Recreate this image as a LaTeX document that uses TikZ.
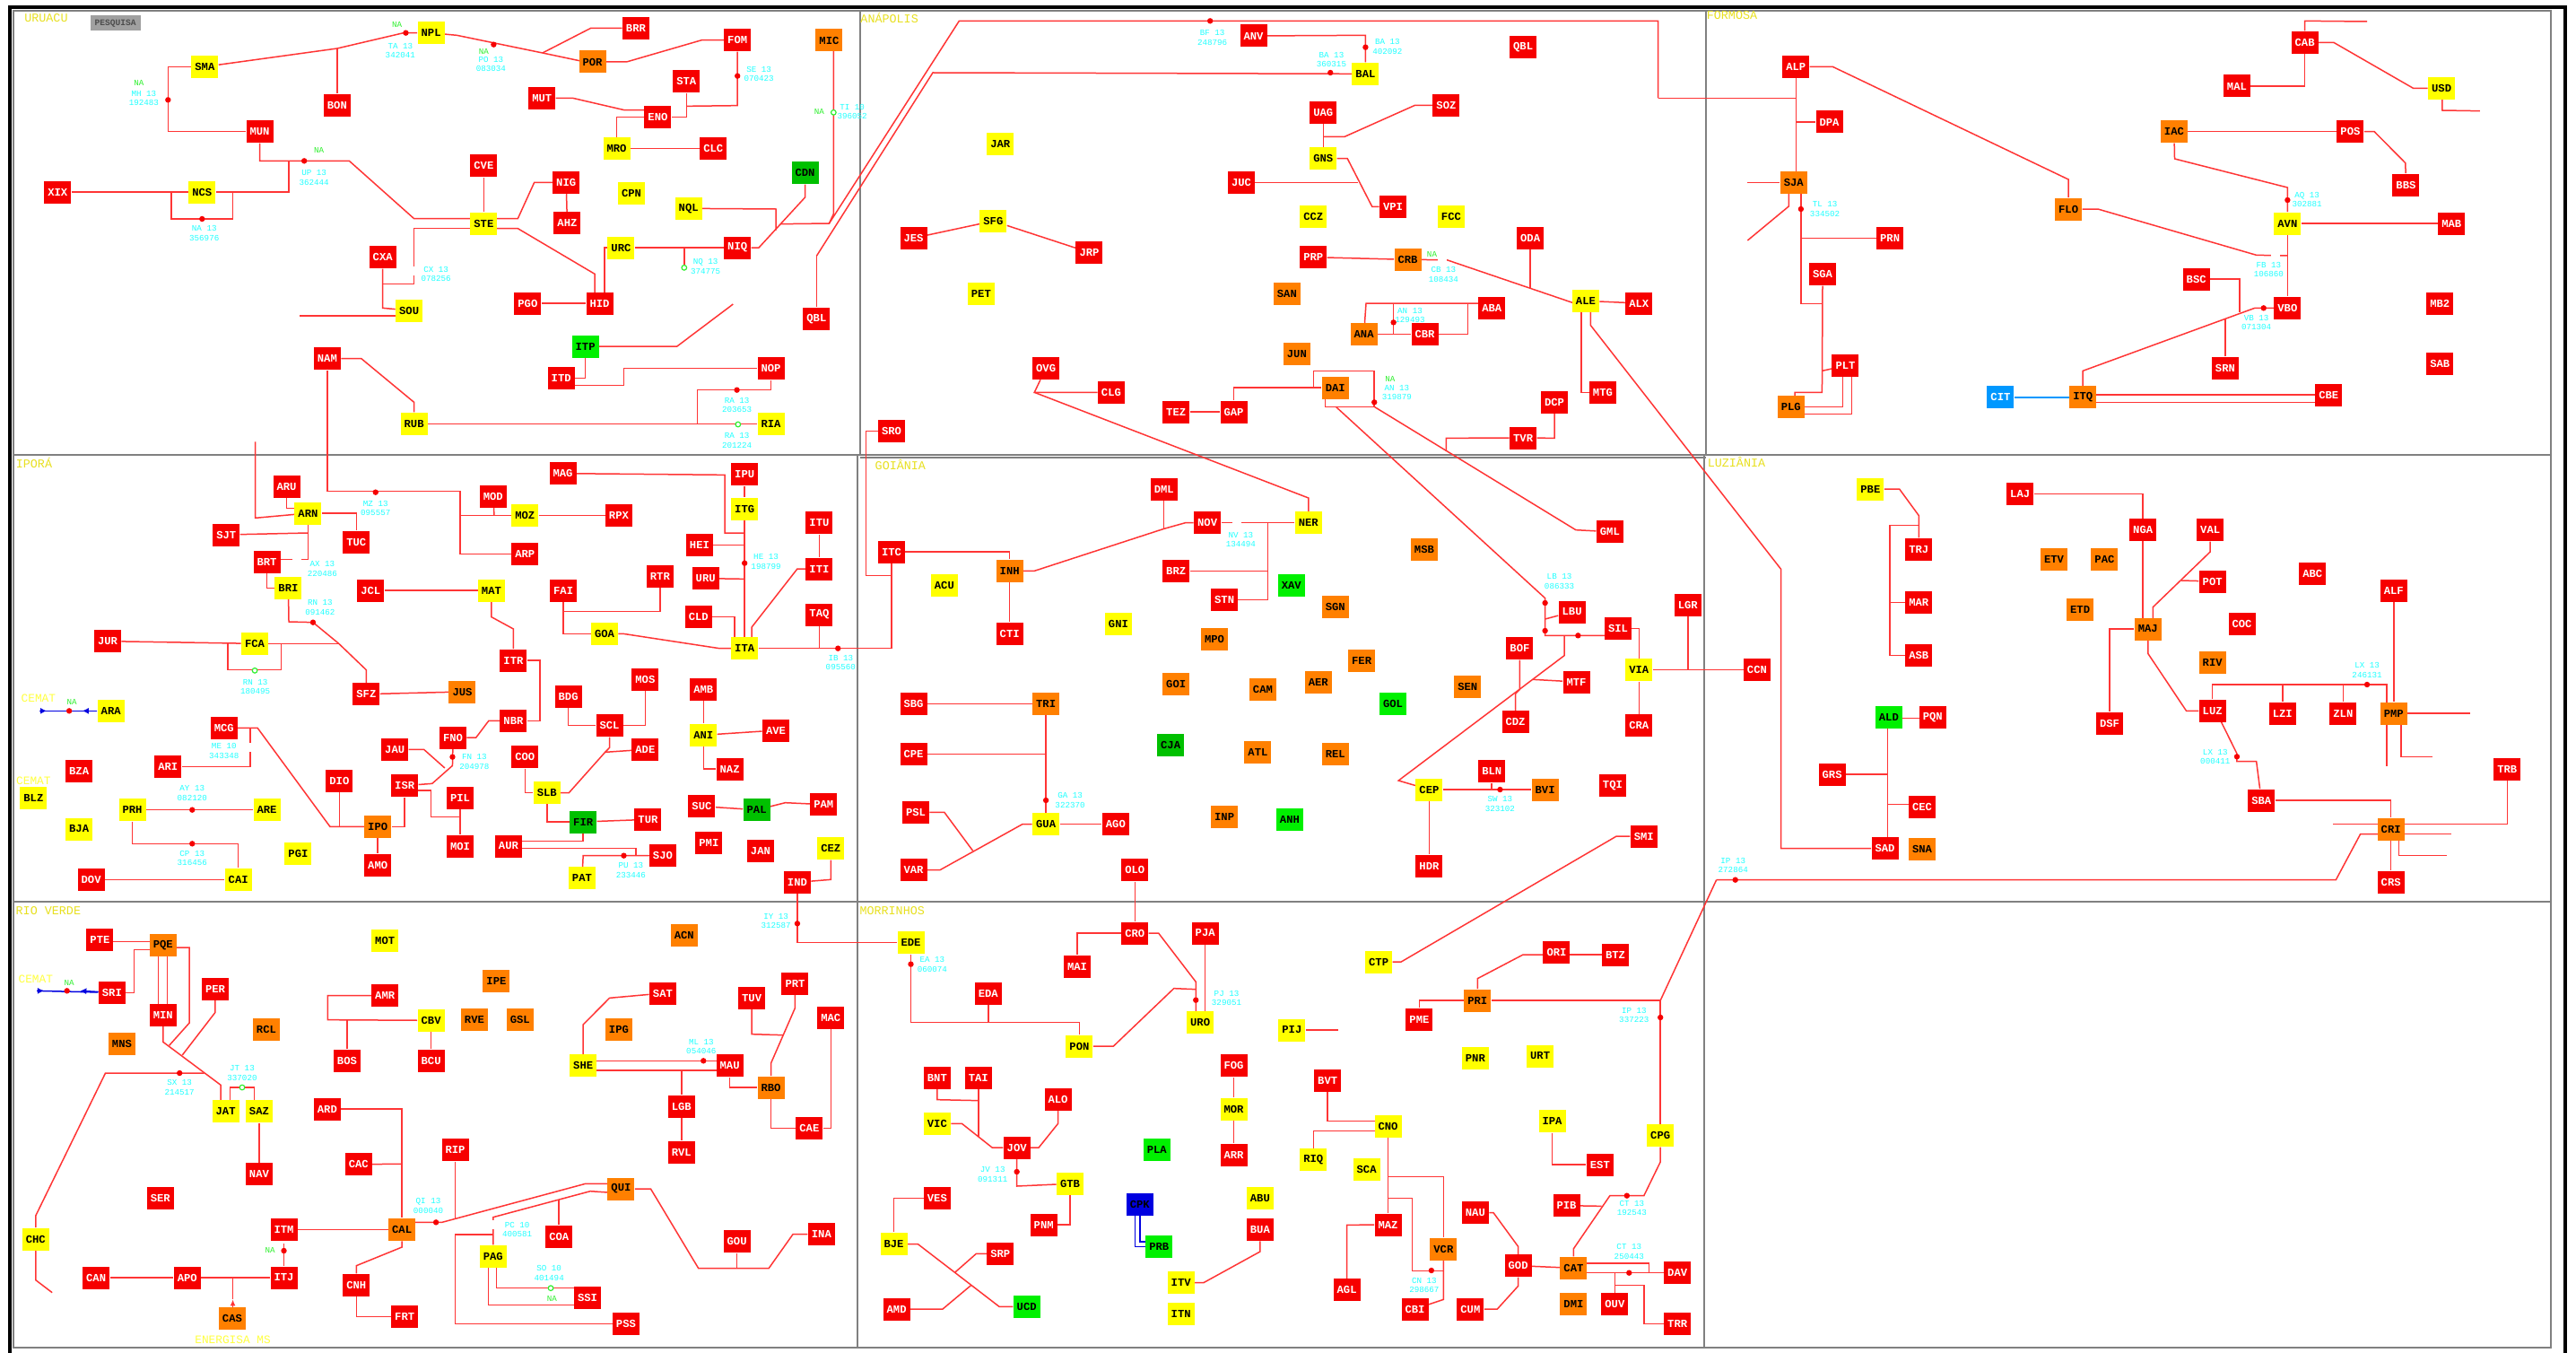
\documentclass[tikz,border=0pt]{standalone}
\usepackage{fontspec}
\setmainfont{Liberation Mono}
\usetikzlibrary{arrows.meta}
\pgfdeclarelayer{wires}
\pgfsetlayers{wires,main}
\definecolor{lnr}{HTML}{FF3535}
\definecolor{ndr}{HTML}{F60000}
\definecolor{ndy}{HTML}{FFFF00}
\definecolor{ndo}{HTML}{FF8000}
\definecolor{ndg}{HTML}{00F000}
\definecolor{ndd}{HTML}{00C000}
\definecolor{ndb}{HTML}{0000E0}
\definecolor{ndc}{HTML}{0098FF}
\definecolor{lbc}{HTML}{20FFFF}
\definecolor{grn}{HTML}{30F030}
\definecolor{ttl}{HTML}{E8E020}
\definecolor{frm}{HTML}{808080}
\tikzset{
 tA/.style={x=.3061pt,y=-.16667pt},
 tB/.style={x=.3061pt,y=-.16667pt,xshift=475pt},
 tC/.style={x=.31pt,y=-.16667pt,xshift=950pt},
 tD/.style={x=.3061pt,y=-.16667pt,yshift=-250pt},
 tE/.style={x=.3061pt,y=-.16667pt,xshift=475pt,yshift=-250pt},
 tF/.style={x=.31pt,y=-.16667pt,xshift=950pt,yshift=-250pt},
 tG/.style={x=.3061pt,y=-.16667pt,yshift=-500pt},
 tH/.style={x=.3061pt,y=-.16667pt,xshift=475pt,yshift=-500pt},
 base/.style={rectangle,draw=none,inner sep=0pt,minimum width=15pt,minimum height=12.5pt,font=\fontsize{6.1}{7}\selectfont\bfseries},
 rn/.style={base,fill=ndr,text=white},
 yn/.style={base,fill=ndy,text=black},
 on/.style={base,fill=ndo,text=black},
 gn/.style={base,fill=ndg,text=black},
 dn/.style={base,fill=ndd,text=black},
 bn/.style={base,fill=ndb,text=black},
 cn/.style={base,fill=ndc,text=white},
 labl/.style={text=lbc,inner sep=0pt,align=center,font=\fontsize{4.6}{5.3}\selectfont},
 nal/.style={text=grn,inner sep=0pt,font=\fontsize{4.6}{5.3}\selectfont},
 ttln/.style={text=ttl,inner sep=0pt,font=\fontsize{6.7}{7.5}\selectfont},
 cem/.style={text=ndy!75!white,inner sep=0pt,font=\fontsize{6.4}{7.5}\selectfont},
 swc/.style={circle,fill=ndr,inner sep=0pt,minimum size=3.2pt},
 swo/.style={circle,fill=white,draw=grn,line width=.6pt,inner sep=0pt,minimum size=2.8pt},
 conn/.style={draw=lnr,line width=.75pt,line join=miter},
 bwire/.style={draw=ndb,line width=.75pt},
 frameln/.style={draw=frm,line width=1pt},
 blackln/.style={draw=black,line width=2.2pt},
}
\newcounter{lbn}
\newcommand\NdR[2]{\node[rn](#1) at (#2){#1};}
\newcommand\NdY[2]{\node[yn](#1) at (#2){#1};}
\newcommand\NdO[2]{\node[on](#1) at (#2){#1};}
\newcommand\NdG[2]{\node[gn](#1) at (#2){#1};}
\newcommand\NdD[2]{\node[dn](#1) at (#2){#1};}
\newcommand\Lb[3]{\stepcounter{lbn}\node[labl](lb\thelbn) at (#1){#2\\#3};}
\newcommand\Nal[1]{\stepcounter{lbn}\node[nal](lb\thelbn) at (#1){NA};}
\newcommand\Sc[1]{\stepcounter{lbn}\node[swc](lb\thelbn) at (#1){};}
\newcommand\So[1]{\stepcounter{lbn}\node[swo](lb\thelbn) at (#1){};}
\newcommand\Sh[1]{\stepcounter{lbn}\node[rectangle,fill=white,inner sep=0pt,minimum width=5pt,minimum height=5pt](lb\thelbn) at (#1){};}
\newcommand\Ln{\draw[conn]}
\begin{document}
\begin{tikzpicture}
\useasboundingbox (0pt,0pt) rectangle (1436pt,-754pt);
% ---------------- tile A
\begin{scope}[tA]
\NdY{NPL}{785,110}\NdY{SMA}{373,223}\NdR{BRR}{1158,94}\NdO{POR}{1079,207}\NdR{FOM}{1343,134}\NdO{MIC}{1510,135}
\NdR{BON}{614,352}\NdR{STA}{1250,272}\NdR{MUT}{987,328}\NdR{ENO}{1198,392}\NdY{MRO}{1123,497}\NdR{CLC}{1299,497}
\NdR{MUN}{473,440}\NdR{CVE}{881,554}\NdR{NIG}{1031,610}\NdY{CPN}{1150,646}\NdD{CDN}{1466,578}\NdR{XIX}{105,642}
\NdY{NCS}{368,642}\NdY{STE}{881,747}\NdR{AHZ}{1033,746}\NdY{NQL}{1254,697}\NdY{URC}{1131,828}\NdR{NIQ}{1343,828}
\NdR{CXA}{697,860}\NdY{SOU}{745,1038}\NdR{PGO}{961,1014}\NdR{HID}{1092,1014}\NdR{QBL}{1487,1066}\NdG{ITP}{1066,1158}
\NdR{NAM}{596,1199}\NdR{NOP}{1404,1232}\NdR{ITD}{1022,1264}\NdY{RUB}{754,1417}\NdY{RIA}{1404,1417}
\node[base,fill=frm!75!white,text=black!70,minimum width=28pt,minimum height=8.5pt,font=\fontsize{4.8}{5.3}\selectfont\bfseries](pesq) at (210,78){PESQUISA};
\node[ttln](ttlA) at (84,60){URUACU};
\Nal{723,82}\Lb{729,169}{TA 13}{342041}\Nal{881,171}\Lb{894,215}{PO 13}{083034}\Lb{1382,247}{SE 13}{070423}
\Nal{253,277}\Lb{262,328}{MH 13}{192483}\Nal{581,503}\Lb{572,594}{UP 13}{362444}\Lb{372,780}{NA 13}{356976}
\Lb{794,916}{CX 13}{078256}\Lb{1285,890}{NQ 13}{374775}\Lb{1342,1354}{RA 13}{203653}\Lb{1342,1473}{RA 13}{201224}
\Nal{1492,373}\Lb{1552,374}{TI 10}{396052}
\Sc{739,110}\Sc{899,149}\Sc{1343,254}\Sc{306,334}\Sc{554,538}\Sc{368,732}\Sc{1342,1304}
\So{1518,376}\So{1246,895}\So{1344,1419}\Sh{754,907}
\coordinate (qa) at (1487,856);
\coordinate (qb) at (1510,747);
\end{scope}
% ---------------- tile B
\begin{scope}[tB]
\NdR{ANV}{731,120}\node[rn](QBLb) at (1222,158){QBL};\NdY{BAL}{935,247}\NdR{UAG}{858,376}\NdR{SOZ}{1082,352}\NdY{JAR}{270,481}
\NdY{GNS}{858,530}\NdR{JUC}{709,610}\NdR{VPI}{985,691}\NdY{CCZ}{840,723}\NdY{FCC}{1091,723}\NdY{SFG}{257,739}
\NdR{JES}{112,796}\NdR{JRP}{432,844}\NdR{ODA}{1235,796}\NdR{PRP}{840,860}\NdO{CRB}{1012,868}\NdY{PET}{235,981}
\NdO{SAN}{792,981}\NdY{ALE}{1336,1006}\NdR{ALX}{1433,1014}\NdR{ABA}{1165,1030}\NdO{ANA}{932,1118}\NdR{CBR}{1043,1118}
\NdO{JUN}{810,1183}\NdR{OVG}{353,1231}\NdO{DAI}{880,1296}\NdR{CLG}{472,1312}\NdR{MTG}{1367,1312}\NdR{DCP}{1279,1344}
\NdR{TEZ}{590,1377}\NdR{GAP}{695,1377}\NdR{SRO}{72,1441}\NdR{TVR}{1222,1464}
\node[ttln](ttlB) at (68,60){ANÁPOLIS};
\Lb{656,126}{BF 13}{248796}\Lb{975,156}{BA 13}{402092}\Lb{873,199}{BA 13}{360315}\Nal{1056,849}\Lb{1077,917}{CB 13}{108434}
\Lb{1016,1054}{AN 13}{129493}\Nal{980,1268}\Lb{992,1312}{AN 13}{319879}
\Sc{652,70}\Sc{935,158}\Sc{871,243}\Sc{986,1078}\Sc{951,1345}\Sh{1074,869}
\coordinate (alea) at (1345,1088);
\end{scope}
% ---------------- tile C
\begin{scope}[tC]
\NdR{CAB}{1080,142}\NdR{ALP}{165,223}\NdR{MAL}{958,288}\NdY{USD}{1326,295}\NdR{DPA}{225,408}\NdO{IAC}{845,440}
\NdR{POS}{1162,440}\NdO{SJA}{161,610}\NdR{BBS}{1262,618}\NdO{FLO}{655,699}\NdY{AVN}{1049,747}\NdR{MAB}{1344,747}
\NdR{PRN}{334,796}\NdR{SGA}{213,917}\NdR{BSC}{885,933}\NdR{VBO}{1049,1030}\NdR{MB2}{1323,1014}\NdR{SAB}{1323,1215}
\NdR{SRN}{937,1231}\NdR{PLT}{254,1223}\NdR{CBE}{1123,1320}\node[cn](CIT) at (533,1328){CIT};\NdO{ITQ}{681,1328}\NdO{PLG}{156,1360}
\node[ttln](ttlC) at (50,52){FORMOSA};
\Lb{217,699}{TL 13}{334502}\Lb{1084,667}{AQ 13}{302881}\Lb{1015,901}{FB 13}{106860}\Lb{993,1078}{VB 13}{071304}
\Sc{174,699}\Sc{1049,669}\Sc{1006,1030}\Sh{1028,855}
\end{scope}
% ---------------- tile D
\begin{scope}[tD]
\NdR{MAG}{1025,83}\NdR{IPU}{1356,87}\NdR{ARU}{522,127}\NdR{MOD}{898,160}\NdY{ITG}{1356,202}\NdY{ARN}{561,216}\NdY{MOZ}{956,224}
\NdR{RPX}{1127,224}\NdR{ITU}{1492,248}\NdR{SJT}{412,288}\NdR{TUC}{649,313}\NdR{HEI}{1274,322}\NdR{ARP}{956,353}\NdR{BRT}{486,378}
\NdR{ITI}{1492,402}\NdR{RTR}{1202,426}\NdR{URU}{1285,434}\NdY{BRI}{525,466}\NdR{JCL}{675,474}\NdY{MAT}{895,474}\NdR{FAI}{1026,474}
\NdR{CLD}{1272,563}\NdR{TAQ}{1492,555}\NdY{GOA}{1101,619}\NdR{JUR}{196,644}\NdY{FCA}{464,652}\NdY{ITA}{1356,668}\NdR{ITR}{935,708}
\NdR{MOS}{1175,772}\NdR{AMB}{1281,805}\NdR{SFZ}{667,821}\NdO{JUS}{842,813}\NdR{BDG}{1035,829}\NdY{ARA}{202,877}\NdR{NBR}{935,910}
\NdR{MCG}{408,934}\NdR{SCL}{1110,926}\NdY{ANI}{1281,958}\NdR{AVE}{1413,942}\NdR{FNO}{825,966}\NdR{JAU}{719,1006}\NdR{COO}{956,1031}
\NdR{ADE}{1175,1006}\NdR{ARI}{306,1063}\NdR{NAZ}{1329,1071}\NdR{BZA}{144,1079}\NdR{DIO}{618,1111}\NdR{ISR}{737,1127}\NdY{SLB}{996,1151}
\NdY{BLZ}{61,1167}\NdR{PIL}{838,1167}\NdR{SUC}{1278,1196}\NdR{PAM}{1500,1190}\NdD{PAL}{1378,1208}\NdY{PRH}{241,1208}\NdY{ARE}{486,1208}
\NdR{TUR}{1180,1240}\NdD{FIR}{1062,1248}\NdO{IPO}{688,1264}\NdY{BJA}{144,1272}\NdR{MOI}{838,1329}\NdR{AUR}{926,1329}\NdR{PMI}{1291,1317}
\NdR{JAN}{1385,1345}\NdY{CEZ}{1513,1337}\NdY{PGI}{543,1353}\NdR{SJO}{1207,1361}\NdR{AMO}{688,1393}\NdY{PAT}{1060,1436}\NdY{CAI}{434,1441}
\NdR{DOV}{166,1441}\NdR{IND}{1452,1450}
\node[ttln](ttlD) at (62,47){IPORÁ};
\node[cem](cemA) at (70,836){CEMAT};\node[cem](cemB) at (61,1110){CEMAT};
\Lb{684,199}{MZ 13}{095557}\Lb{587,401}{AX 13}{220486}\Lb{583,530}{RN 13}{091462}\Lb{465,796}{RN 13}{180495}\Nal{131,848}
\Lb{408,1010}{ME 10}{343348}\Lb{864,1047}{FN 13}{204978}\Lb{350,1151}{AY 13}{082120}\Lb{350,1369}{CP 13}{316456}\Lb{1149,1409}{PU 13}{233446}
\Lb{1395,377}{HE 13}{198799}\Lb{1531,715}{IB 13}{095560}
\Sc{684,146}\Sc{570,581}\So{464,742}\Sc{126,877}\Sc{824,1031}\Sc{350,1208}\Sc{350,1321}\Sc{1136,1361}\Sc{1356,383}\Sc{1526,668}
\Sh{541,370}\Sh{456,1000}
\end{scope}
% ---------------- tile E
\begin{scope}[tE]
\NdR{DML}{568,135}\NdR{NOV}{647,248}\NdY{NER}{831,248}\NdR{GML}{1380,278}\NdO{MSB}{1042,337}\NdR{ITC}{72,345}\NdO{INH}{287,409}
\NdR{BRZ}{590,409}\NdY{ACU}{168,458}\NdG{XAV}{800,458}\NdR{STN}{678,506}\NdO{SGN}{880,530}\NdR{LGR}{1522,522}\NdR{LBU}{1311,546}
\NdY{GNI}{485,587}\NdR{SIL}{1395,601}\NdR{CTI}{287,619}\NdO{MPO}{660,636}\NdR{BOF}{1216,668}\NdO{FER}{928,708}\NdY{VIA}{1433,740}
\NdO{AER}{849,780}\NdR{MTF}{1319,780}\NdO{GOI}{590,788}\NdO{CAM}{748,805}\NdO{SEN}{1121,796}\NdR{SBG}{112,853}\NdO{TRI}{353,853}
\NdG{GOL}{985,853}\NdR{CDZ}{1208,914}\NdR{CRA}{1433,926}\NdD{CJA}{580,990}\NdO{ATL}{739,1015}\NdR{CPE}{112,1022}\NdO{REL}{880,1022}
\NdR{BLN}{1165,1079}\NdY{CEP}{1051,1140}\NdO{BVI}{1262,1140}\NdR{TQI}{1385,1127}\NdR{PSL}{116,1216}\NdY{GUA}{353,1256}\NdR{AGO}{480,1256}
\NdO{INP}{678,1232}\NdG{ANH}{797,1240}\NdR{SMI}{1442,1296}\NdR{HDR}{1051,1396}\NdR{VAR}{112,1409}\NdR{OLO}{515,1409}
\node[ttln](ttlE) at (88,53){GOIÂNIA};
\Lb{708,304}{NV 13}{134494}\Lb{1288,443}{LB 13}{086333}\Lb{397,1176}{GA 13}{322370}\Lb{1180,1188}{SW 13}{323102}
\Sc{1262,516}\Sc{1262,609}\Sc{1322,625}\Sc{353,1176}\Sc{1180,1140}\Sh{700,248}
\coordinate (smib) at (1392,1296);
\end{scope}
% ---------------- tile F
\begin{scope}[tF]
\NdY{PBE}{299,135}\NdR{LAJ}{568,151}\NdR{NGA}{789,272}\NdR{VAL}{910,272}\NdR{TRJ}{386,337}\NdO{ETV}{629,369}\NdO{PAC}{720,369}
\NdR{ABC}{1094,418}\NdR{POT}{914,444}\NdR{ALF}{1240,474}\NdR{MAR}{386,514}\NdO{ETD}{676,539}\NdR{COC}{967,587}\NdO{MAJ}{798,603}
\NdR{ASB}{386,692}\NdO{RIV}{914,716}\NdR{CCN}{95,740}\NdR{LUZ}{914,877}\NdR{LZI}{1040,885}\NdR{ZLN}{1149,885}\NdO{PMP}{1240,885}
\NdG{ALD}{332,898}\NdR{PQN}{411,898}\NdR{DSF}{729,918}\NdR{GRS}{230,1089}\NdR{TRB}{1444,1071}\NdR{CEC}{392,1198}\NdR{SBA}{1002,1176}
\NdO{CRI}{1235,1272}\NdR{SAD}{325,1337}\NdO{SNA}{392,1339}\NdR{CRS}{1235,1450}
\node[ttln](ttlF) at (58,45){LUZIÂNIA};
\Lb{1192,740}{LX 13}{246131}\Lb{919,1030}{LX 13}{000411}\Lb{52,1393}{IP 13}{272864}
\Sc{1192,789}\Sc{958,1030}\Sc{56,1442}
\end{scope}
% ---------------- tile G
\begin{scope}[tG]
\NdR{PTE}{182,142}\NdO{PQE}{297,160}\NdY{MOT}{701,146}\NdO{ACN}{1246,127}\NdO{IPE}{904,281}\NdR{PER}{392,307}\NdR{SRI}{204,319}
\NdR{AMR}{701,329}\NdR{SAT}{1207,321}\NdR{PRT}{1448,289}\NdR{TUV}{1369,337}\NdR{MAC}{1513,402}\NdR{MIN}{297,394}\NdY{CBV}{785,412}
\NdO{RVE}{864,410}\NdO{GSL}{947,410}\NdO{RCL}{485,443}\NdO{IPG}{1127,443}\NdO{MNS}{222,491}\NdR{BOS}{632,547}\NdR{BCU}{785,547}
\NdY{SHE}{1062,563}\NdR{MAU}{1329,563}\NdO{RBO}{1404,636}\NdR{LGB}{1241,700}\NdR{ARD}{596,708}\NdY{JAT}{411,716}\NdY{SAZ}{472,716}
\NdR{CAE}{1474,772}\NdR{RVL}{1241,853}\NdR{RIP}{829,845}\NdR{CAC}{653,893}\NdR{NAV}{472,926}\NdO{QUI}{1131,975}\NdR{SER}{292,1007}
\NdR{COA}{1018,1135}\NdR{ITM}{517,1111}\NdO{CAL}{732,1111}\NdR{GOU}{1342,1151}\NdR{INA}{1496,1127}\NdY{CHC}{65,1143}\NdY{PAG}{898,1201}
\NdR{CAN}{175,1272}\NdR{APO}{341,1272}\NdR{ITJ}{517,1272}\NdR{SSI}{1070,1340}\NdR{CNH}{649,1297}\NdR{FRT}{737,1402}\NdO{CAS}{423,1408}\NdR{PSS}{1140,1426}
\node[ttln](ttlG) at (88,45){RIO VERDE};
\node[cem](cemC) at (65,275){CEMAT};\node[cem](cemD) at (424,1480){ENERGISA MS};
\Lb{1413,79}{IY 13}{312587}\Nal{126,285}\Lb{441,587}{JT 13}{337020}\Lb{327,635}{SX 13}{214517}\Lb{1277,499}{ML 13}{054046}
\Lb{780,1031}{QI 13}{000040}\Lb{942,1111}{PC 10}{400581}\Lb{1000,1257}{SO 10}{401494}\Nal{1005,1343}\Nal{492,1180}
\Sc{1452,88}\Sc{122,313}\So{441,636}\Sc{327,588}\Sc{1281,547}\Sc{794,1087}\So{1003,1307}\Sc{517,1182}\Sh{898,1095}
\end{scope}
% ---------------- tile H
\begin{scope}[tH]
\NdY{EDE}{107,152}\NdR{CRO}{515,120}\NdR{PJA}{643,120}\NdR{MAI}{410,232}\NdR{EDA}{248,321}\NdY{CTP}{959,216}\NdR{ORI}{1283,184}
\NdR{BTZ}{1390,192}\NdO{PRI}{1139,345}\NdR{PME}{1033,409}\NdY{URO}{634,418}\NdY{PIJ}{801,444}\NdY{PON}{414,498}\NdR{FOG}{695,563}
\NdR{BNT}{155,603}\NdR{TAI}{230,603}\NdR{BVT}{866,612}\NdY{PNR}{1135,539}\NdY{URT}{1253,531}\NdR{ALO}{375,676}\NdY{MOR}{695,708}
\NdY{IPA}{1275,749}\NdY{VIC}{155,757}\NdY{CNO}{976,765}\NdY{CPG}{1472,797}\NdR{JOV}{300,837}\NdG{PLA}{555,845}\NdR{ARR}{695,861}
\NdY{RIQ}{840,878}\NdR{EST}{1362,894}\NdY{SCA}{937,910}\NdY{GTB}{397,958}\NdR{VES}{155,1007}\NdY{ABU}{743,1006}
\node[bn](CPK) at (524,1027){CPK};\NdR{PIB}{1301,1031}\NdR{NAU}{1135,1055}\NdR{PNM}{349,1095}\NdR{MAZ}{976,1095}\NdR{BUA}{743,1111}
\NdY{BJE}{76,1159}\NdG{PRB}{559,1168}\NdO{VCR}{1077,1176}\NdR{SRP}{270,1192}\NdR{GOD}{1213,1232}\NdO{CAT}{1314,1240}\NdR{DAV}{1503,1256}
\NdY{ITV}{599,1289}\NdR{AGL}{901,1313}\NdG{UCD}{318,1369}\NdR{AMD}{81,1377}\NdR{CBI}{1025,1377}\NdR{CUM}{1126,1377}\NdO{DMI}{1314,1361}
\NdR{OUV}{1389,1361}\NdY{ITN}{599,1393}\NdR{TRR}{1503,1426}
\node[ttln](ttlH) at (73,45){MORRINHOS};
\Lb{146,225}{EA 13}{060074}\Lb{682,337}{PJ 13}{329051}\Lb{1424,394}{IP 13}{337223}\Lb{256,926}{JV 13}{091311}
\Lb{1420,1039}{CT 13}{192543}\Lb{1415,1184}{CT 13}{250443}\Lb{1042,1297}{CN 13}{298667}
\Sc{107,224}\Sc{626,344}\Sc{1472,402}\Sc{300,918}\Sc{1411,998}\Sc{1415,1256}\Sc{1055,1248}
\end{scope}
%======================== WIRES
\begin{pgfonlayer}{wires}
\fill[white] (0pt,0pt) rectangle (1436pt,-754pt);
% frame
\coordinate (fa) at (5.5pt,-4pt); \coordinate (fb) at (1430pt,-4pt);
\coordinate (fc) at (1430pt,-754pt); \coordinate (fd) at (5.5pt,-754pt);
\draw[frameln] (7.5pt,-6pt) -- (1422pt,-6pt) -- (1422pt,-751pt) -- (7.5pt,-751pt) -- cycle;
\draw[frameln] (479.5pt,-6pt) -- (479.5pt,-253.5pt);
\draw[frameln] (951pt,-6pt) -- (951pt,-253.5pt);
\draw[frameln] (7.5pt,-253.5pt) -- (1422pt,-253.5pt);
\draw[frameln] (478pt,-253.5pt) -- (478pt,-751pt);
\draw[frameln] (950pt,-253.5pt) -- (950pt,-751pt);
\draw[frameln] (479.5pt,-255pt) -- (951pt,-255pt);
\draw[frameln] (7.5pt,-502.5pt) -- (1422pt,-502.5pt);
\draw[blackln] (fd) -- (fa) -- (fb) -- (fc);
%--- A
\begin{scope}[tA]
\Ln (SMA) -- (614,162) coordinate (ja) -- (735,110) -- (NPL);
\Ln (SMA) -- (306,223) -- (306,440) -- (MUN);
\Ln (BON) -- (ja);
\Ln (NPL) -- (832,118) -- (988,177) coordinate (jb) -- (1055,203) -- (POR);
\Ln (BRR) -- (1076,94) -- (jb);
\Ln (POR) -- (1141,207) -- (1278,134) -- (FOM);
\Ln (FOM) -- (1343,353) -- (1250,355);
\Ln (STA) -- (1250,392) -- (ENO);
\Ln (MUT) -- (1043,328) -- (1137,368) -- (ENO |- 0,368);
\Ln (ENO) -- (1123,392) -- (MRO);
\Ln (MRO) -- (CLC);
\Ln (MUN) -- (473,538) coordinate (jc) -- (636,538) -- (754,731) -- (STE |- 0,731);
\Ln (XIX) -- (NCS);
\Ln (NCS) -- (526,642) -- (526,538);
\Ln (NCS -| 312,0) -- (312,732) -- (424,732) -- (NCS -| 424,0);
\Ln (CVE) -- (STE);
\Ln (STE |- 0,731) -- (943,731) -- (973,610) -- (NIG);
\Ln (NIG) -- (AHZ);
\Ln (STE |- 0,764) -- (754,764) -- (754,949) -- (697,949) coordinate (jd);
\Ln (CXA) -- (697,1030) -- (SOU);
\Ln (STE |- 0,764) -- (943,764) -- (1083,916) -- (HID -| 1083,0);
\Ln (URC) -- (1101,828) -- (HID -| 1101,0);
\Ln (URC) -- (NIQ);
\Ln (URC -| 1246,0) coordinate (je) -- (1246,895);
\Ln (PGO) -- (HID);
\coordinate (fra) at (545,1056); \Ln (SOU |- fra) -- (fra);
\Ln (NIQ) -- (1382,828) -- (1466,660) -- (CDN);
\Ln (NQL) -- (1413,699) -- (1413,770);
\Ln (MIC -| 1518,0) -- (1518,715) -- (qb) -- (1422,749);
\coordinate (frb) at (1335,1017); \Ln (ITP) -- (1233,1158) -- (frb);
\Ln (ITP) -- (1066,1264) -- (ITD);
\Ln (ITD |- 0,1288) -- (1136,1288) -- (1136,1232) -- (NOP);
\Ln (NOP) -- (1404,1304) -- (1270,1304) -- (1270,1417);
\Ln (RUB) -- (RIA);
\Ln (NAM) -- (658,1199) -- (754,1345) -- (RUB);
\Ln (QBL) -- (qa);
\end{scope}
%--- B
\begin{scope}[tB]
\Ln (qa) -- (147,243) -- (BAL);
\Ln (ANV) -- (935,118) -- (BAL);
\Ln (UAG) -- (GNS);
\Ln (858,457) -- (897,457) -- (1025,352) -- (SOZ);
\Ln (GNS) -- (902,530) -- (947,691) -- (VPI);
\Ln (JUC) -- (922,610);
\Ln (JES) -- (SFG);
\Ln (SFG) -- (JRP);
\Ln (PRP) -- (CRB);
\Ln (CRB) -- (1083,869) -- (1312,1012) -- (ALE);
\Ln (ODA) -- (1235,964);
\Ln (ALE) -- (ALX);
\Ln (ALE -| 1328,0) -- (1328,1312) -- (MTG);
\Ln (ANA) -- (936,1014) -- (ABA |- 0,1014);
\Ln (ANA) -- (CBR);
\Ln (CBR) -- (1121,1118) -- (1121,1014);
\Ln (986,1014) -- (986,1118);
\Ln (DAI) -- (695,1296) -- (GAP);
\Ln (TEZ) -- (GAP);
\Ln (DAI -| 840,0) -- (840,1240) -- (951,1240) -- (951,1360) coordinate (daib) -- (881,1360) coordinate (daia) -- (862,1360) -- (DAI -| 862,0);
\Ln (OVG) -- (332,1312) coordinate (ovga) -- (CLG);
\Ln (TVR) -- (1279,1465) -- (DCP);
\Ln (TVR) -- (1082,1465) -- (1082,1508);
\Ln (qb) -- (195,70) -- (1468,70) -- (1468,328) coordinate (bfa);
\end{scope}
%--- C
\begin{scope}[tC]
\Ln (bfa) -- (165,328);
\Ln (ALP) -- (231,223) -- (655,600) -- (FLO);
\Ln (ALP -| 165,0) -- (SJA -| 165,0);
\Ln (165,408) -- (DPA);
\coordinate (frc) at (78,610); \Ln (SJA) -- (frc);
\coordinate (frd) at (78,804); \Ln (SJA -| 152,0) -- (152,690) -- (frd);
\Ln (SJA -| 174,0) -- (174,1015) -- (213,1015);
\Ln (174,796) -- (PRN);
\Ln (SGA) -- (212,1312) -- (163,1312) -- (PLG -| 163,0);
\Ln (212,1240) -- (PLT);
\Ln (PLT -| 249,0) -- (249,1360) -- (PLG);
\Ln (PLT -| 265,0) -- (265,1385) -- (PLG |- 0,1385);
\Ln (FLO) -- (708,699) -- (993,853) -- (1049,855);
\Ln (AVN) -- (VBO);
\Ln (AVN) -- (1049,627) -- (846,531) -- (IAC);
\Ln (IAC) -- (POS);
\Ln (POS) -- (1205,440) -- (1261,545) -- (BBS);
\Ln (AVN) -- (MAB);
\coordinate (fre) at (1192,72); \Ln (CAB) -- (1080,70) -- (fre);
\Ln (CAB) -- (1080,288) -- (MAL);
\Ln (CAB) -- (1132,142) -- (1275,295) -- (USD);
\coordinate (frf) at (1395,371); \Ln (USD -| 1327,0) -- (1327,369) -- (frf);
\Ln (BSC) -- (963,933) -- (963,1045);
\Ln (VBO) -- (990,1030) -- (681,1240) -- (ITQ);
\Ln (SRN) -- (937,1065);
\draw[draw=ndc,line width=1pt] (CIT) -- (ITQ);
\Ln (ITQ |- 0,1320) -- (CBE |- 0,1320);
\Ln (ITQ |- 0,1345) -- (CBE |- 0,1345);
\end{scope}
%--- D
\begin{scope}[tD]
\Ln (NAM) -- (NAM |- 0,143) -- (838,143) -- (838,353) -- (ARP);
\Ln (838,224) -- (MOZ);
\Ln (MOD) -- (900,224);
\Ln (MOZ) -- (RPX);
\coordinate (frg) at (465,-23); \Ln (frg) -- (465,232) -- (ARN);
\Ln (ARU) -- (522,200) -- (ARN |- 0,200);
\Ln (ARN) -- (649,216) -- (TUC);
\Ln (ARN) -- (561,370) -- (BRT |- 0,370);
\Ln (SJT) -- (561,282);
\Ln (BRT) -- (486,466) -- (BRI);
\Ln (BRI) -- (526,579) -- (570,581) -- (617,652) coordinate (jf) -- (667,740) -- (SFZ);
\Ln (JUR) -- (FCA);
\Ln (FCA) -- (jf);
\Ln (FCA -| 415,0) -- (415,740) -- (512,740) -- (FCA -| 512,0);
\Ln (SFZ) -- (JUS);
\Ln (JCL) -- (MAT);
\Ln (MAT) -- (895,563) -- (935,603) -- (ITR);
\Ln (ITR) -- (983,708) -- (983,910) -- (NBR);
\Ln (NBR) -- (890,910) -- (867,966) -- (FNO);
\Ln (FNO) -- (824,1060) coordinate (jg) -- (787,1120) -- (ISR);
\Ln (JAU) -- (772,1006) -- (810,1068);
\Ln (ISR |- 0,1143) -- (785,1143) -- (785,1232) -- (838,1232);
\Ln (PIL) -- (MOI);
\Ln (ISR) -- (737,1264) -- (IPO);
\Ln (DIO) -- (618,1264);
\Ln (MCG) -- (469,934) -- (601,1264) -- (IPO);
\Ln (456,934) -- (456,1063) -- (ARI);
\Ln (IPO) -- (AMO);
\Ln (PRH) -- (ARE);
\Ln (PRH) -- (241,1321) -- (434,1321) -- (CAI);
\Ln (DOV) -- (CAI);
\coordinate (frh) at (72,877);
\draw[bwire] (ARA) -- (frh);
\draw[bwire,-{Latex[length=3.5pt,width=3.5pt]}] (frh) -- (85,877);
\draw[bwire,-{Latex[length=3.5pt,width=3.5pt]}] (ARA) -- (150,877);
\Ln (MAG) -- (1320,88) -- (1320,282) -- (1356,282);
\Ln (IPU) -- (ITG);
\Ln (ITG) -- (ITA);
\Ln (HEI) -- (1356,322);
\Ln (URU) -- (1356,436);
\Ln (CLD) -- (1338,563) -- (ITA -| 1338,0);
\Ln (ITA -| 1369,0) -- (1369,597) -- (1452,402) -- (ITI);
\Ln (ITU) -- (ITI);
\Ln (GOA) -- (1135,619) -- (1310,668) -- (ITA);
\Ln (FAI) -- (1026,619) -- (GOA);
\Ln (1026,545) -- (1202,545) -- (RTR);
\Ln (BDG) -- (1035,926) -- (SCL);
\Ln (SCL) -- (1175,926) -- (MOS);
\Ln (SCL) -- (1110,1000) -- (1102,1015) coordinate (jh) -- (1036,1151) -- (SLB);
\Ln (ADE) -- (jh);
\Ln (COO) -- (956,1151) -- (SLB);
\Ln (SLB -| 996,0) -- (996,1248) -- (FIR);
\Ln (FIR) -- (TUR);
\Ln (FIR) -- (1062,1312) -- (AUR |- 0,1312);
\Ln (AUR |- 0,1337) -- (1158,1337) -- (1158,1361) -- (SJO);
\Ln (PAT) -- (1062,1361) -- (SJO);
\Ln (AMB) -- (ANI);
\Ln (ANI) -- (AVE);
\Ln (ANI) -- (1281,1071) -- (NAZ);
\Ln (SUC) -- (PAL);
\Ln (PAL) -- (1430,1184) -- (PAM);
\Ln (CEZ) -- (1513,1441) -- (IND);
\Ln (IND) -- (IND |- EDE) -- (EDE);
\Ln (ITA) -- (ITC |- ITA) -- (ITC);
\Ln (TAQ) -- (TAQ |- ITA);
\end{scope}
%--- E
\begin{scope}[tE]
\Ln (SRO) -- (SRO -| 25,0) -- (25,424) -- (ITC |- 0,424);
\Ln (ovga) -- (831,165) -- (NER);
\Ln (daia) -- (1262,500) -- (1262,625) coordinate (ji) -- (SIL |- 0,625);
\Ln (daib) -- (1318,272) -- (GML);
\Ln (ITC) -- (287,345) -- (INH);
\Ln (INH) -- (CTI);
\Ln (INH) -- (332,409) -- (568,268) coordinate (jk) -- (607,248) -- (NOV);
\Ln (DML) -- (jk);
\Ln (NOV) -- (NER);
\Ln (757,248) -- (757,506) -- (STN);
\Ln (BRZ) -- (757,409);
\Ln (SBG) -- (TRI);
\Ln (TRI) -- (GUA);
\Ln (CPE) -- (353,1022);
\Ln (GUA) -- (310,1256) -- (160,1409) -- (VAR);
\Ln (PSL) -- (168,1216) -- (220,1345);
\Ln (GUA) -- (AGO);
\Ln (CEP) -- (BVI);
\Ln (BLN) -- (1165,1140);
\Ln (CEP) -- (HDR);
\Ln (CEP) -- (995,1110) -- (1297,692) -- (1297,625);
\Ln (LBU) -- (1262,570);
\Ln (MTF) -- (1240,772);
\Ln (BOF) -- (1216,805) -- (1208,820) -- (CDZ);
\Ln (SIL) -- (1433,601) -- (VIA);
\Ln (VIA) -- (CRA);
\Ln (VIA) -- (CCN);
\Ln (LGR) -- (LGR |- VIA);
\end{scope}
%--- F
\begin{scope}[tF]
\Ln (ALE -| alea) -- (alea) -- (138,403) -- (138,1337) -- (SAD);
\Ln (PBE) -- (351,135) -- (386,224) -- (TRJ);
\Ln (386,256) -- (334,256) -- (334,692) -- (ASB);
\Ln (334,514) -- (MAR);
\Ln (LAJ) -- (789,151) -- (NGA);
\Ln (NGA -| 789,0) -- (MAJ -| 789,0);
\Ln (VAL) -- (910,345) -- (807,530) -- (MAJ -| 807,0);
\Ln (POT) -- (858,441);
\Ln (MAJ) -- (729,603) -- (DSF);
\Ln (MAJ) -- (798,685) -- (867,877) -- (LUZ);
\Ln (LUZ) -- (914,789) -- (1227,789) -- (PMP -| 1227,0);
\Ln (LZI) -- (1040,789);
\Ln (ZLN) -- (1149,789);
\Ln (ALF) -- (PMP);
\coordinate (frk) at (1378,885); \Ln (PMP) -- (frk);
\coordinate (frl) at (1227,1062); \Ln (PMP -| 1227,0) -- (frl);
\coordinate (frmm) at (1310,1030); \Ln (PMP -| 1253,0) -- (1253,1030) -- (frmm);
\Ln (LUZ -| 920,0) -- (958,1020) -- (958,1046) -- (993,1046) -- (SBA);
\Ln (SBA) -- (1235,1176) -- (CRI);
\coordinate (frn) at (1131,1256); \Ln (CRI |- frn) -- (frn);
\Ln (CRI |- frn) -- (1444,1256) -- (TRB);
\coordinate (fro) at (1344,1289); \Ln (CRI |- fro) -- (fro);
\coordinate (frp) at (1335,1361); \Ln (CRI -| 1249,0) -- (1249,1361) -- (frp);
\Ln (CRI) -- (CRS);
\Ln (CRI |- 0,1289) -- (1180,1289) -- (1136,1442) -- (22,1442) coordinate (ipa);
\Ln (ALD |- 0,901) -- (PQN |- 0,901);
\Ln (ALD -| 330,0) -- (SAD -| 330,0);
\Ln (GRS) -- (330,1089);
\Ln (CEC |- 0,1190) -- (330,1190);
\end{scope}
%--- G
\begin{scope}[tG]
\Ln (PTE |- 0,148) -- (PQE |- 0,148);
\Ln (SRI) -- (244,319) -- (244,175) -- (PQE |- 0,175);
\Ln (PQE -| 288,0) -- (MIN -| 288,0);
\Ln (PQE -| 305,0) -- (MIN -| 305,0);
\Ln (PQE |- 0,168) -- (345,168) -- (345,420) -- (308,496);
\Ln (MIN) -- (297,484) -- (402,628) -- (JAT -| 402,0);
\Ln (PER) -- (392,385) -- (332,528);
\Ln (CHC) -- (65,1065) -- (192,588) -- (372,588);
\coordinate (frq) at (95,1322); \Ln (CHC) -- (65,1280) -- (frq);
\Ln (JAT -| 419,0) -- (419,636) -- (463,636) -- (SAZ -| 463,0);
\Ln (SAZ) -- (NAV);
\Ln (AMR) -- (597,329) -- (597,410) -- (CBV);
\Ln (BOS) -- (632,410);
\Ln (CBV) -- (BCU);
\Ln (SAT) -- (1110,337) -- (1062,426) -- (SHE);
\Ln (SHE |- 0,547) -- (MAU |- 0,547);
\Ln (SHE |- 0,579) -- (MAU |- 0,579);
\Ln (LGB) -- (1241,579);
\Ln (LGB) -- (RVL);
\Ln (MAU) -- (1329,636) -- (RBO);
\Ln (RBO) -- (1404,555) -- (1448,370) -- (PRT);
\Ln (TUV) -- (1369,458) -- (1426,461);
\Ln (RBO) -- (1404,772) -- (CAE);
\Ln (CAE) -- (1513,772) -- (MAC);
\Ln (ARD) -- (732,708) -- (CAL);
\Ln (CAC) -- (732,892);
\Ln (ITM) -- (CAL);
\Ln (RIP) -- (829,1075);
\Ln (CAL |- 0,1087) -- (805,1087) -- (1066,958) -- (QUI |- 0,958);
\Ln (PAG) -- (898,1070) -- (1075,983) -- (QUI |- 0,990);
\Ln (COA) -- (1018,1012);
\Ln (CAL) -- (732,1170) -- (649,1232) -- (CNH);
\Ln (CNH) -- (649,1402) -- (FRT);
\Ln (PAG |- 0,1128) -- (829,1128) -- (829,1426) -- (PSS);
\Ln (PAG -| 904,0) -- (904,1307) -- (SSI |- 0,1307);
\Ln (PAG -| 889,0) -- (889,1363) -- (SSI |- 0,1363);
\Ln (QUI) -- (1185,975) -- (1272,1241) -- (1400,1241) -- (1444,1127) -- (INA);
\Ln (GOU) -- (1342,1241);
\Ln (CAN) -- (APO);
\Ln (APO) -- (ITJ);
\coordinate (frr) at (517,1158); \Ln (ITJ) -- (frr);
\draw[conn,-{Latex[length=3.5pt,width=3pt]}] (CAS -| 424,0) -- (424,1345);
\Ln (424,1345) -- (424,1272);
\coordinate (frs) at (67,313);
\draw[bwire] (SRI) -- (frs);
\draw[bwire,-{Latex[length=3.5pt,width=3.5pt]}] (frs) -- (80,313);
\draw[bwire,-{Latex[length=3.5pt,width=3.5pt]}] (SRI) -- (146,313);
\end{scope}
%--- H
\begin{scope}[tH]
\Ln (EDE) -- (107,418) -- (414,418) -- (PON);
\Ln (EDA) -- (248,418);
\Ln (PON) -- (476,498) -- (586,305) -- (626,308);
\Ln (CRO) -- (558,120) -- (626,283) -- (URO -| 626,0);
\Ln (CRO) -- (410,120) -- (MAI);
\Ln (PJA) -- (URO -| 643,0);
\coordinate (frt) at (885,444); \Ln (PIJ) -- (frt);
\Ln (OLO) -- (CRO);
\Ln (CTP) -- (1000,216) -- (smib) -- (SMI);
\Ln (PRI) -- (1139,272) -- (1222,192) -- (ORI |- 0,192);
\Ln (ORI |- 0,192) -- (BTZ);
\Ln (PME) -- (1033,345) -- (PRI);
\Ln (PRI) -- (1472,345) coordinate (jm) -- (CPG);
\Ln (ipa) -- (jm);
\Ln (BNT) -- (155,677) -- (230,680);
\Ln (TAI) -- (230,800);
\Ln (VIC) -- (200,757) -- (255,837) -- (JOV);
\Ln (ALO) -- (375,757) -- (340,837) -- (JOV);
\Ln (JOV) -- (300,966) -- (GTB);
\Ln (GTB) -- (397,1095) -- (PNM);
\Ln (VES) -- (76,1007) -- (BJE);
\Ln (BJE) -- (120,1160) -- (268,1369) -- (UCD);
\Ln (SRP) -- (226,1192) -- (187,1255);
\Ln (AMD) -- (165,1377) -- (217,1297);
\Ln (FOG) -- (MOR);
\Ln (MOR) -- (ARR);
\Ln (BVT) -- (866,748) -- (CNO |- 0,748);
\Ln (CNO |- 0,781) -- (840,781) -- (RIQ);
\Ln (CNO) -- (MAZ);
\Ln (976,934) -- (1077,934) -- (VCR);
\Ln (976,1007) -- (1020,1007) -- (1020,1249) -- (1077,1249);
\Ln (VCR) -- (1077,1345) -- (CBI);
\Ln (MAZ) -- (901,1096) -- (AGL);
\Ln (NAU) -- (1168,1055) -- (1213,1168) -- (GOD);
\Ln (CUM) -- (1175,1377) -- (1213,1300) -- (GOD);
\Ln (GOD) -- (CAT);
\Ln (CAT) -- (1314,1175) -- (1380,998) -- (1442,998) -- (1472,885) -- (CPG);
\Ln (PIB) -- (1365,1033);
\Ln (CAT |- 0,1224) -- (1451,1224) -- (1451,1256);
\Ln (CAT |- 0,1256) -- (DAV);
\Ln (OUV) -- (1389,1256);
\Ln (1389,1297) -- (1442,1297) -- (1442,1426) -- (TRR);
\Ln (IPA) -- (1275,894) -- (EST);
\Ln (BUA) -- (743,1185) -- (640,1289) -- (ITV);
\draw[bwire] (CPK -| 515,0) -- (515,1168) -- (PRB);
\draw[bwire] (CPK -| 524,0) -- (524,1152) -- (PRB |- 0,1152);
\end{scope}
\end{pgfonlayer}
\end{tikzpicture}
\end{document}
